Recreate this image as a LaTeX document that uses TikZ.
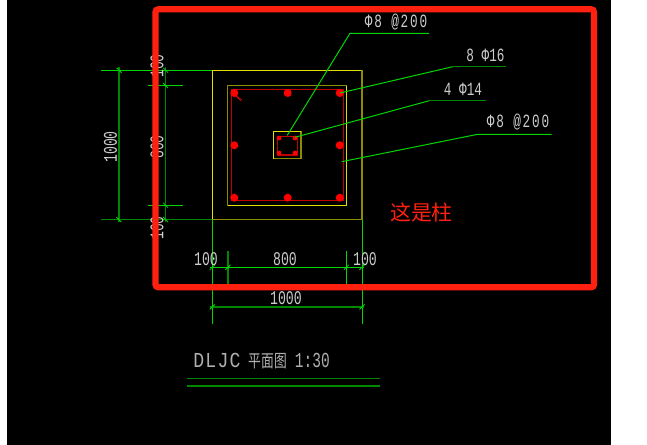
\documentclass[tikz,border=0pt]{standalone}
\usepackage{fontspec}
\newfontfamily\cad[FakeStretch=0.68]{Liberation Mono}
\newfontfamily\cadwide[FakeStretch=0.68,LetterSpace=9.6]{Liberation Mono}
\newfontfamily\cadtitle[FakeStretch=0.85,LetterSpace=6]{Liberation Mono}
\newfontfamily\cjk{Noto Sans CJK SC}
\newfontfamily\cjktall[FakeStretch=0.72]{Noto Sans CJK SC}
\definecolor{gbright}{RGB}{0,215,0}
\definecolor{gdark}{RGB}{0,135,0}
\definecolor{ybright}{RGB}{225,225,0}
\definecolor{ydark}{RGB}{140,140,0}
\definecolor{rebar}{RGB}{255,0,0}
\definecolor{frame}{RGB}{255,32,16}
\definecolor{cadtext}{RGB}{205,205,205}
\definecolor{titletext}{RGB}{175,175,175}
\tikzset{
  x=0.75pt,y=-0.75pt,
  gb/.style={draw=gbright,line width=0.75pt},
  gd/.style={draw=gdark,line width=1pt},
  yb/.style={draw=ybright,line width=0.7pt},
  yd/.style={draw=ydark,line width=1.1pt},
  tick/.style={draw=gbright,line width=0.6pt},
  stirrup/.style={draw=rebar!75!black,line width=0.9pt},
  bar/.style={fill=rebar,draw=none,circle,inner sep=0pt,minimum size=6pt},
  smallbar/.style={fill=rebar,draw=none,circle,inner sep=0pt,minimum size=3.6pt},
  dimtext/.style={text=cadtext,inner sep=0pt,font=\cad\fontsize{14.5}{14.5}\selectfont},
  labeltext/.style={text=cadtext,inner sep=0pt,font=\cad\fontsize{14}{14}\selectfont},
  stirruptext/.style={text=cadtext,inner sep=0pt,font=\cadwide\fontsize{14}{14}\selectfont},
}
\begin{document}
\begin{tikzpicture}
\useasboundingbox (0,0) rectangle (647,445);
\fill[white] (0,0) rectangle (647,445);
\fill[black] (7,0) rectangle (611,445);
% extension lines, left
\coordinate (L1a) at (101,70.3);  \coordinate (L1b) at (212,70.3);
\coordinate (L2a) at (101,219.7); \coordinate (L2b) at (212,219.7);
\coordinate (L3a) at (148,85.7);  \coordinate (L3b) at (183,85.7);
\coordinate (L4a) at (148,205.3); \coordinate (L4b) at (183,205.3);
\draw[gb] (L1a)--(L1b);
\draw[gd] (L2a)--(L2b);
\draw[gb] (L3a)--(L3b);
\draw[gb] (L4a)--(L4b);
\coordinate (V1a) at (119,67); \coordinate (V1b) at (119,222);
\coordinate (V2a) at (165.7,67); \coordinate (V2b) at (165.7,222);
\draw[gd] (V1a)--(V1b);
\draw[gd] (V2a)--(V2b);
\foreach \px/\py in {119/70.3,119/219.7,165.7/70.3,165.7/85.7,165.7/205.3,165.7/219.7}
  \draw[tick] (\px-2.5,\py-2.5)--(\px+2.5,\py+2.5);
% outer footing
\draw[yb] (362,70)--(212.3,70)--(212.3,219.7);
\draw[yd] (212.3,219.7)--(362,219.7)--(362,70);
% inner outline
\draw[yd] (346.7,205.3)--(227.7,205.3)--(227.7,85.7)--(346.7,85.7);
\draw[yb] (227.7,205.3)--(346.7,205.3)--(346.7,85.7);
% stirrup
\draw[stirrup] (231.3,89.3) rectangle (343.3,200.7);
\draw[rebar,line width=0.4pt] (235,95) -- (242,100);
\draw[rebar,line width=0.4pt] (236,96) -- (241,101);
\foreach \px/\py in {234.3/93,287.7/93,339.7/93,234.3/145.3,339.7/145.3,234.3/197.7,287.7/197.7,339.7/197.7}
  \node[bar] at (\px,\py) {};
% column
\draw[yd] (273.7,131.3) rectangle (301,158.7);
\draw[yb] (273.7,158.7)--(273.7,131.3)--(301,131.3);
\draw[stirrup] (277.3,136.3) rectangle (297.7,155);
\foreach \px/\py in {279/138,295/138,279/153,295/153}
  \node[smallbar] at (\px,\py) {};
% leaders
\coordinate (A0) at (287.3,135.3); \coordinate (A1) at (350,33.3); \coordinate (A2) at (429,33.3);
\coordinate (B0) at (340,93); \coordinate (B1) at (452.7,66.7); \coordinate (B2) at (506,66.7);
\coordinate (C0) at (295,137.3); \coordinate (C1) at (429.3,100.7); \coordinate (C2) at (485.7,100.7);
\coordinate (D0) at (341.7,161.7); \coordinate (D1) at (477.7,134.3); \coordinate (D2) at (551.7,134.3);
\draw[gb] (A0)--(A1)--(A2);
\draw[gb] (B0)--(B1);
\draw[gd] (B1)--(B2);
\draw[gb] (C0)--(C1);
\draw[gd] (C1)--(C2);
\draw[gb] (D0)--(D1)--(D2);
% bottom dimension lines
\coordinate (H1a) at (212.3,219.7); \coordinate (H1b) at (212.3,324.3);
\coordinate (H2a) at (362,219.7);   \coordinate (H2b) at (362,324.3);
\coordinate (H3a) at (228,251);     \coordinate (H3b) at (228,284);
\coordinate (H4a) at (346.3,251);   \coordinate (H4b) at (346.3,284);
\draw[gb] (H1a)--(H1b);
\draw[gb] (H2a)--(H2b);
\draw[gd] (H3a)--(H3b);
\draw[gb] (H4a)--(H4b);
\coordinate (D1a) at (210,267.3); \coordinate (D1b) at (364,267.3);
\coordinate (D2a) at (210,307);   \coordinate (D2b) at (364,307);
\draw[gb] (D1a)--(D1b);
\draw[gd] (D2a)--(D2b);
\foreach \px/\py in {212.3/267.3,228/267.3,346.3/267.3,362/267.3,212.3/307,362/307}
  \draw[tick] (\px-2.5,\py+2.5)--(\px+2.5,\py-2.5);
% title lines
\coordinate (T1a) at (187,378.7); \coordinate (T1b) at (380,378.7);
\coordinate (T2a) at (187,386);   \coordinate (T2b) at (380,386);
\draw[gd] (T1a)--(T1b);
\draw[gd] (T2a)--(T2b);
% dimension text
\node[dimtext,rotate=90] (tv1) at (110.5,147) {1000};
\node[dimtext,rotate=90] (tv2) at (157,66) {100};
\node[dimtext,rotate=90] (tv3) at (157,147) {800};
\node[dimtext,rotate=90] (tv4) at (157,228) {100};
\node[dimtext] (th1) at (206,259) {100};
\node[dimtext] (th2) at (285,259) {800};
\node[dimtext] (th3) at (365,259) {100};
\node[dimtext] (th4) at (286,298) {1000};
% labels
\node[stirruptext] (la) at (396,22) {Φ8 @200};
\node[labeltext] (lb) at (485.5,55) {8 Φ16};
\node[labeltext] (lc) at (463,89.5) {4 Φ14};
\node[stirruptext] (ld) at (518,122.5) {Φ8 @200};
% title
\node[text=titletext,inner sep=0pt,anchor=west] (title) at (193,361) {\fontsize{16}{16}\selectfont{\cadtitle DLJC}\hspace{6pt}{\cjktall\fontsize{13.3}{13.3}\selectfont 平面图}\hspace{6pt}{\cad 1:30}};
% annotation frame
\draw[draw=frame,line width=4.6pt,rounded corners=2pt] (155.5,9.3) rectangle (594,287.3);
\node[text=frame,inner sep=0pt,font=\cjk\fontsize{15.7}{15.7}\selectfont] (note) at (421.5,212) {这是柱};
\end{tikzpicture}
\end{document}
